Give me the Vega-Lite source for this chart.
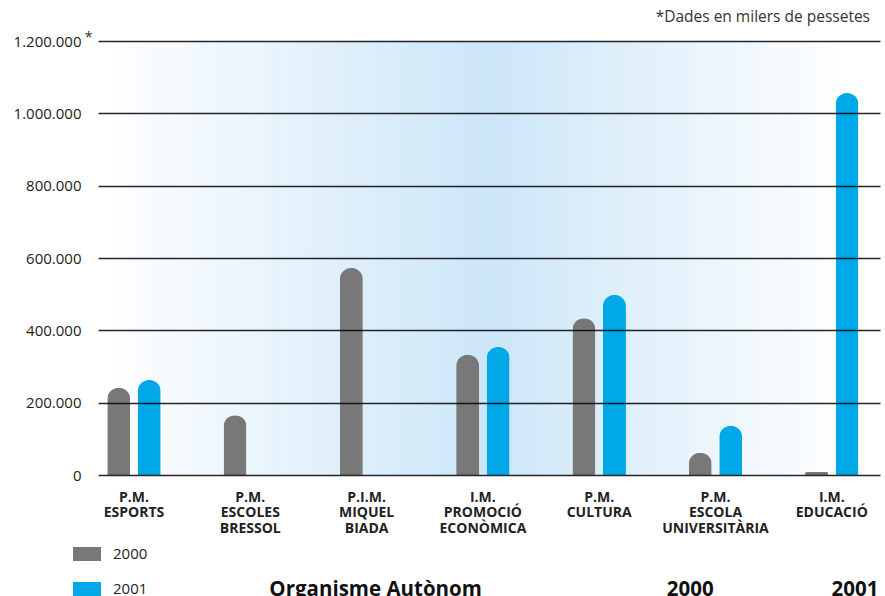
{
  "$schema": "https://vega.github.io/schema/vega-lite/v6.json",
  "width": 782,
  "height": 434,
  "autosize": {"type": "none"},
  "padding": {"left": 98, "top": 41, "right": 5, "bottom": 121},
  "background": "white",
  "title": {"text": "*Dades en milers de pessetes", "anchor": "end", "frame": "group", "fontSize": 15.5, "fontWeight": "normal", "color": "#333333", "dx": -10, "offset": 4},
  "datasets": {
    "bars": [
      {"organisme": "P.M.\nESPORTS", "year": "2000", "value": 241500},
      {"organisme": "P.M.\nESPORTS", "year": "2001", "value": 262800},
      {"organisme": "P.M.\nESCOLES\nBRESSOL", "year": "2000", "value": 165100},
      {"organisme": "P.I.M.\nMIQUEL\nBIADA", "year": "2000", "value": 572600},
      {"organisme": "I.M.\nPROMOCIÓ\nECONÒMICA", "year": "2000", "value": 332800},
      {"organisme": "I.M.\nPROMOCIÓ\nECONÒMICA", "year": "2001", "value": 354100},
      {"organisme": "P.M.\nCULTURA", "year": "2000", "value": 433500},
      {"organisme": "P.M.\nCULTURA", "year": "2001", "value": 498000},
      {"organisme": "P.M.\nESCOLA\nUNIVERSITÀRIA", "year": "2000", "value": 60900},
      {"organisme": "P.M.\nESCOLA\nUNIVERSITÀRIA", "year": "2001", "value": 136400},
      {"organisme": "I.M.\nEDUCACIÓ", "year": "2000", "value": 8300},
      {"organisme": "I.M.\nEDUCACIÓ", "year": "2001", "value": 1055900}
    ],
    "header": [
      {"organisme": "P.I.M.\nMIQUEL\nBIADA", "text": "Organisme Autònom"}
    ],
    "header2000": [
      {"organisme": "P.M.\nESCOLA\nUNIVERSITÀRIA", "year": "2000", "text": "2000"}
    ],
    "header2001": [
      {"organisme": "I.M.\nEDUCACIÓ", "year": "2001", "text": "2001"}
    ]
  },
  "layer": [
    {
      "data": {"name": "bars"},
      "mark": {"type": "bar", "cornerRadiusTopLeft": 11.5, "cornerRadiusTopRight": 11.5},
      "encoding": {
        "x": {
          "field": "organisme", "type": "nominal",
          "scale": {"domain": ["P.M.\nESPORTS", "P.M.\nESCOLES\nBRESSOL", "P.I.M.\nMIQUEL\nBIADA", "I.M.\nPROMOCIÓ\nECONÒMICA", "P.M.\nCULTURA", "P.M.\nESCOLA\nUNIVERSITÀRIA", "I.M.\nEDUCACIÓ"], "paddingInner": 0.4755, "paddingOuter": 0.0998, "align": 0.237},
          "axis": {"title": null, "labelAngle": 0, "domain": false, "ticks": false, "grid": false, "labelFontWeight": "bold", "labelFontSize": 14, "labelLineHeight": 15.5, "labelPadding": 15, "labelColor": "#222222", "labelExpr": "split(datum.label, '\\n')"}
        },
        "xOffset": {"field": "year", "type": "nominal", "scale": {"domain": ["2000", "2001"], "paddingInner": 0.2459, "paddingOuter": 0.123}},
        "y": {
          "field": "value", "type": "quantitative",
          "scale": {"domain": [0, 1200000], "nice": false},
          "axis": {"values": [0, 200000, 400000, 600000, 800000, 1000000, 1200000], "grid": true, "gridColor": "#000000", "gridOpacity": 0.85, "gridWidth": 1.3, "domain": false, "ticks": false, "zindex": 1, "labelFontSize": 15, "labelColor": "#222222", "labelPadding": 17, "labelExpr": "replace(replace(format(datum.value, ','), ',', '.'), ',', '.')", "title": "*", "titleAngle": 0, "titleX": -10, "titleY": -5, "titleAlign": "center", "titleBaseline": "middle", "titleFontSize": 15, "titleFontWeight": "normal", "titleColor": "#333333"}
        },
        "color": {
          "field": "year", "type": "nominal",
          "scale": {"domain": ["2000", "2001"], "range": ["#787878", "#00a8e8"]},
          "legend": {"title": null, "orient": "none", "legendX": -25, "legendY": 499, "symbolType": "M-1,-0.5H1V0.5H-1Z", "symbolSize": 784, "symbolStrokeWidth": 0, "symbolOpacity": 1, "labelFontSize": 15, "labelColor": "#222222", "labelOffset": 12, "rowPadding": 13, "padding": 0}
        }
      }
    },
    {
      "data": {"name": "header"},
      "mark": {"type": "text", "fontWeight": "bold", "fontSize": 20.5, "baseline": "middle", "color": "#111111", "dx": 9},
      "encoding": {
        "x": {"field": "organisme", "type": "nominal"},
        "y": {"datum": -318000, "type": "quantitative"},
        "text": {"field": "text"}
      }
    },
    {
      "data": {"name": "header2000"},
      "mark": {"type": "text", "fontWeight": "bold", "fontSize": 20.5, "baseline": "middle", "color": "#111111", "dx": -10},
      "encoding": {
        "x": {"field": "organisme", "type": "nominal"},
        "xOffset": {"field": "year", "type": "nominal"},
        "y": {"datum": -318000, "type": "quantitative"},
        "text": {"field": "text"}
      }
    },
    {
      "data": {"name": "header2001"},
      "mark": {"type": "text", "fontWeight": "bold", "fontSize": 20.5, "baseline": "middle", "color": "#111111", "dx": 8},
      "encoding": {
        "x": {"field": "organisme", "type": "nominal"},
        "xOffset": {"field": "year", "type": "nominal"},
        "y": {"datum": -318000, "type": "quantitative"},
        "text": {"field": "text"}
      }
    }
  ],
  "config": {
    "font": "Open Sans",
    "view": {"stroke": null, "fill": {"gradient": "linear", "x1": 0, "y1": 0, "x2": 1, "y2": 0, "stops": [{"offset": 0, "color": "#ffffff"}, {"offset": 0.5, "color": "#cce6f8"}, {"offset": 0.96, "color": "#ffffff"}, {"offset": 1, "color": "#ffffff"}]}}
  }
}
